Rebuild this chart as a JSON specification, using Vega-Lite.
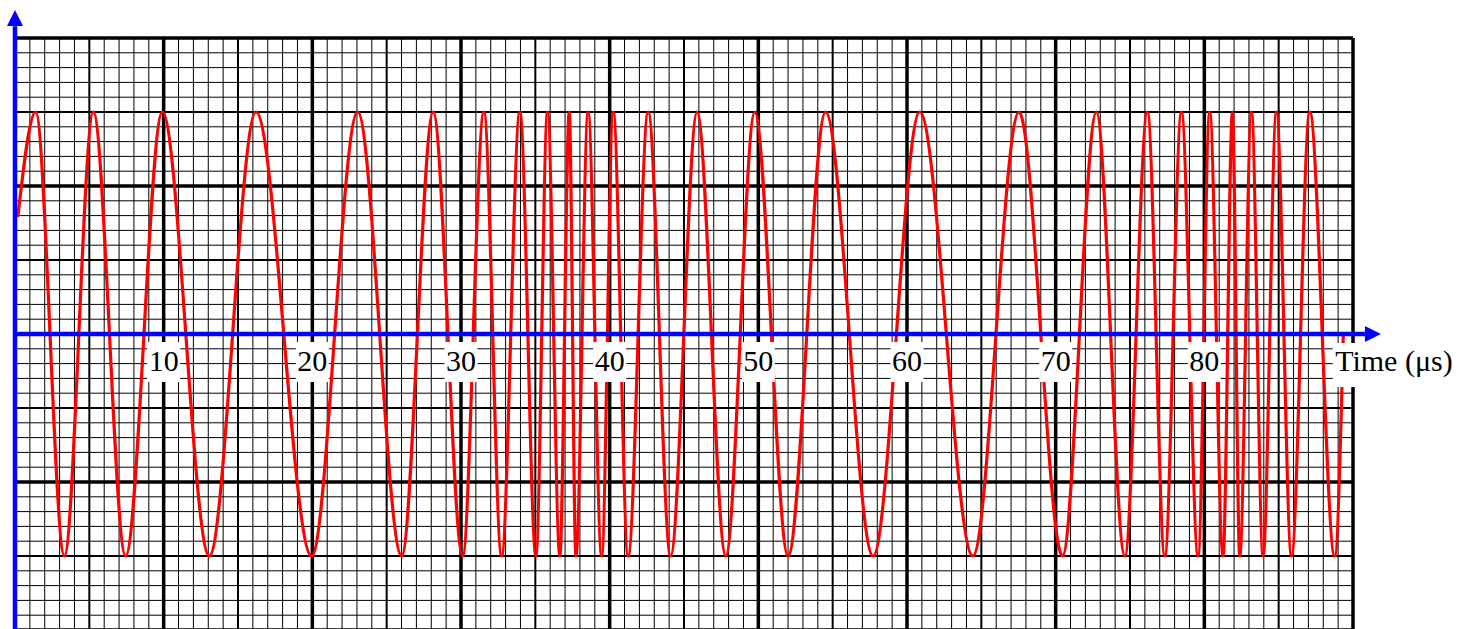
{
  "$schema": "https://vega.github.io/schema/vega-lite/v6.json",
  "width": 1338,
  "height": 592,
  "autosize": {"type": "none"},
  "padding": {"left": 15, "top": 38, "right": 113, "bottom": 0},
  "background": "white",
  "config": {"view": {"stroke": null}},
  "datasets": {
    "signal": [
      {"t": 0.2, "v": 1.6},
      {"t": 1.39, "v": 3}, {"t": 3.32, "v": -3}, {"t": 5.27, "v": 3}, {"t": 7.44, "v": -3},
      {"t": 9.91, "v": 3}, {"t": 13.07, "v": -3}, {"t": 16.21, "v": 3}, {"t": 19.95, "v": -3},
      {"t": 23.05, "v": 3}, {"t": 26.01, "v": -3}, {"t": 28.13, "v": 3}, {"t": 30.11, "v": -3},
      {"t": 31.54, "v": 3}, {"t": 32.73, "v": -3}, {"t": 33.96, "v": 3}, {"t": 35.04, "v": -3},
      {"t": 35.82, "v": 3}, {"t": 36.65, "v": -3}, {"t": 37.28, "v": 3}, {"t": 37.73, "v": -3},
      {"t": 38.55, "v": 3}, {"t": 39.46, "v": -3}, {"t": 40.24, "v": 3}, {"t": 41.24, "v": -3},
      {"t": 42.59, "v": 3}, {"t": 44.1, "v": -3}, {"t": 45.88, "v": 3}, {"t": 47.81, "v": -3},
      {"t": 49.76, "v": 3}, {"t": 52.0, "v": -3}, {"t": 54.52, "v": 3}, {"t": 57.72, "v": -3},
      {"t": 60.86, "v": 3}, {"t": 64.43, "v": -3}, {"t": 67.54, "v": 3}, {"t": 70.46, "v": -3},
      {"t": 72.74, "v": 3}, {"t": 74.65, "v": -3}, {"t": 76.17, "v": 3}, {"t": 77.34, "v": -3},
      {"t": 78.46, "v": 3}, {"t": 79.58, "v": -3}, {"t": 80.36, "v": 3}, {"t": 81.26, "v": -3},
      {"t": 81.89, "v": 3}, {"t": 82.38, "v": -3}, {"t": 83.17, "v": 3}, {"t": 83.95, "v": -3},
      {"t": 84.85, "v": 3}, {"t": 85.86, "v": -3}, {"t": 87.09, "v": 3}, {"t": 88.77, "v": -3},
      {"t": 89.35, "v": 0}
    ],
    "gridX": [
      {"g": 0}, {"g": 1}, {"g": 2}, {"g": 3}, {"g": 4}, {"g": 5}, {"g": 6}, {"g": 7}, {"g": 8}, {"g": 9},
      {"g": 10}, {"g": 11}, {"g": 12}, {"g": 13}, {"g": 14}, {"g": 15}, {"g": 16}, {"g": 17}, {"g": 18}, {"g": 19},
      {"g": 20}, {"g": 21}, {"g": 22}, {"g": 23}, {"g": 24}, {"g": 25}, {"g": 26}, {"g": 27}, {"g": 28}, {"g": 29},
      {"g": 30}, {"g": 31}, {"g": 32}, {"g": 33}, {"g": 34}, {"g": 35}, {"g": 36}, {"g": 37}, {"g": 38}, {"g": 39},
      {"g": 40}, {"g": 41}, {"g": 42}, {"g": 43}, {"g": 44}, {"g": 45}, {"g": 46}, {"g": 47}, {"g": 48}, {"g": 49},
      {"g": 50}, {"g": 51}, {"g": 52}, {"g": 53}, {"g": 54}, {"g": 55}, {"g": 56}, {"g": 57}, {"g": 58}, {"g": 59},
      {"g": 60}, {"g": 61}, {"g": 62}, {"g": 63}, {"g": 64}, {"g": 65}, {"g": 66}, {"g": 67}, {"g": 68}, {"g": 69},
      {"g": 70}, {"g": 71}, {"g": 72}, {"g": 73}, {"g": 74}, {"g": 75}, {"g": 76}, {"g": 77}, {"g": 78}, {"g": 79},
      {"g": 80}, {"g": 81}, {"g": 82}, {"g": 83}, {"g": 84}, {"g": 85}, {"g": 86}, {"g": 87}, {"g": 88}, {"g": 89},
      {"g": 90}
    ],
    "gridY": [
      {"g": -4}, {"g": -3.8}, {"g": -3.6}, {"g": -3.4}, {"g": -3.2}, {"g": -3}, {"g": -2.8}, {"g": -2.6}, {"g": -2.4}, {"g": -2.2},
      {"g": -2}, {"g": -1.8}, {"g": -1.6}, {"g": -1.4}, {"g": -1.2}, {"g": -1}, {"g": -0.8}, {"g": -0.6}, {"g": -0.4}, {"g": -0.2},
      {"g": 0}, {"g": 0.2}, {"g": 0.4}, {"g": 0.6}, {"g": 0.8}, {"g": 1}, {"g": 1.2}, {"g": 1.4}, {"g": 1.6}, {"g": 1.8},
      {"g": 2}, {"g": 2.2}, {"g": 2.4}, {"g": 2.6}, {"g": 2.8}, {"g": 3}, {"g": 3.2}, {"g": 3.4}, {"g": 3.6}, {"g": 3.8},
      {"g": 4}
    ],
    "ticks": [
      {"t": 10, "label": "10"}, {"t": 20, "label": "20"}, {"t": 30, "label": "30"}, {"t": 40, "label": "40"},
      {"t": 50, "label": "50"}, {"t": 60, "label": "60"}, {"t": 70, "label": "70"}, {"t": 80, "label": "80"}
    ],
    "title": [{"t": 88.8, "label": "Time (μs)"}],
    "one": [{}]
  },
  "layer": [
    {
      "data": {"name": "gridX"},
      "transform": [{"filter": "datum.g % 5 !== 0"}],
      "mark": {"type": "rule", "color": "black", "strokeWidth": 1},
      "encoding": {
        "x": {"field": "g", "type": "quantitative", "scale": {"domain": [0, 90], "nice": false, "zero": false}, "axis": null}
      }
    },
    {
      "data": {"name": "gridY"},
      "transform": [{"filter": "abs(datum.g - round(datum.g)) > 0.01"}],
      "mark": {"type": "rule", "color": "black", "strokeWidth": 1},
      "encoding": {
        "y": {"field": "g", "type": "quantitative", "scale": {"domain": [-4, 4], "nice": false, "zero": false}, "axis": null}
      }
    },
    {
      "data": {"name": "gridX"},
      "transform": [{"filter": "datum.g % 5 === 0 && datum.g % 10 !== 0"}],
      "mark": {"type": "rule", "color": "black", "strokeWidth": 2},
      "encoding": {
        "x": {"field": "g", "type": "quantitative", "axis": null}
      }
    },
    {
      "data": {"name": "gridY"},
      "transform": [{"filter": "abs(datum.g - round(datum.g)) < 0.01 && round(datum.g) % 2 !== 0"}],
      "mark": {"type": "rule", "color": "black", "strokeWidth": 2},
      "encoding": {
        "y": {"field": "g", "type": "quantitative", "axis": null}
      }
    },
    {
      "data": {"name": "gridX"},
      "transform": [{"filter": "datum.g % 10 === 0"}],
      "mark": {"type": "rule", "color": "black", "strokeWidth": 3.5},
      "encoding": {
        "x": {"field": "g", "type": "quantitative", "axis": null}
      }
    },
    {
      "data": {"name": "gridY"},
      "transform": [{"filter": "abs(datum.g - round(datum.g)) < 0.01 && round(datum.g) % 2 === 0"}],
      "mark": {"type": "rule", "color": "black", "strokeWidth": 3.5},
      "encoding": {
        "y": {"field": "g", "type": "quantitative", "axis": null}
      }
    },
    {
      "data": {"name": "signal"},
      "mark": {"type": "line", "interpolate": "monotone", "color": "#ff0000", "strokeWidth": 3.2, "strokeJoin": "round", "strokeCap": "round"},
      "encoding": {
        "x": {"field": "t", "type": "quantitative", "axis": null},
        "y": {"field": "v", "type": "quantitative", "axis": null}
      }
    },
    {
      "data": {"name": "ticks"},
      "mark": {"type": "point", "shape": "M-0.825,-1L0.825,-1L0.825,1L-0.825,1Z", "size": 1600, "filled": true, "fill": "white", "opacity": 1, "strokeWidth": 0, "yOffset": -9},
      "encoding": {
        "x": {"field": "t", "type": "quantitative", "axis": null},
        "y": {"datum": -0.5, "type": "quantitative", "axis": null}
      }
    },
    {
      "data": {"name": "title"},
      "mark": {"type": "point", "shape": "M-2.93,-1L2.93,-1L2.93,1L-2.93,1Z", "size": 1936, "filled": true, "fill": "white", "opacity": 1, "strokeWidth": 0, "xOffset": 62, "yOffset": -6},
      "encoding": {
        "x": {"field": "t", "type": "quantitative", "axis": null},
        "y": {"datum": -0.5, "type": "quantitative", "axis": null}
      }
    },
    {
      "data": {"name": "ticks"},
      "mark": {"type": "text", "font": "Liberation Serif", "fontSize": 30, "align": "center", "baseline": "alphabetic", "color": "black"},
      "encoding": {
        "x": {"field": "t", "type": "quantitative", "axis": null},
        "y": {"datum": -0.5, "type": "quantitative", "axis": null},
        "text": {"field": "label"}
      }
    },
    {
      "data": {"name": "title"},
      "mark": {"type": "text", "font": "Liberation Serif", "fontSize": 30, "align": "left", "baseline": "alphabetic", "color": "black"},
      "encoding": {
        "x": {"field": "t", "type": "quantitative", "axis": null},
        "y": {"datum": -0.5, "type": "quantitative", "axis": null},
        "text": {"field": "label"}
      }
    },
    {
      "data": {"name": "one"},
      "mark": {"type": "rule", "color": "#0000ff", "strokeWidth": 4.5},
      "encoding": {
        "x": {"datum": 0, "type": "quantitative", "axis": null},
        "y": {"datum": -4.3, "type": "quantitative", "axis": null},
        "y2": {"datum": 4.16}
      }
    },
    {
      "data": {"name": "one"},
      "mark": {"type": "rule", "color": "#0000ff", "strokeWidth": 4.5},
      "encoding": {
        "x": {"datum": 0, "type": "quantitative", "axis": null},
        "x2": {"datum": 90.8},
        "y": {"datum": 0, "type": "quantitative", "axis": null}
      }
    },
    {
      "data": {"name": "one"},
      "mark": {"type": "point", "shape": "M0,-1L1,1L-1,1Z", "size": 256, "filled": true, "fill": "#0000ff", "opacity": 1, "strokeWidth": 0},
      "encoding": {
        "x": {"datum": 0, "type": "quantitative", "axis": null},
        "y": {"datum": 4.27, "type": "quantitative", "axis": null}
      }
    },
    {
      "data": {"name": "one"},
      "mark": {"type": "point", "shape": "M-1,-1L1,0L-1,1Z", "size": 256, "filled": true, "fill": "#0000ff", "opacity": 1, "strokeWidth": 0},
      "encoding": {
        "x": {"datum": 91.34, "type": "quantitative", "axis": null},
        "y": {"datum": 0, "type": "quantitative", "axis": null}
      }
    }
  ]
}
